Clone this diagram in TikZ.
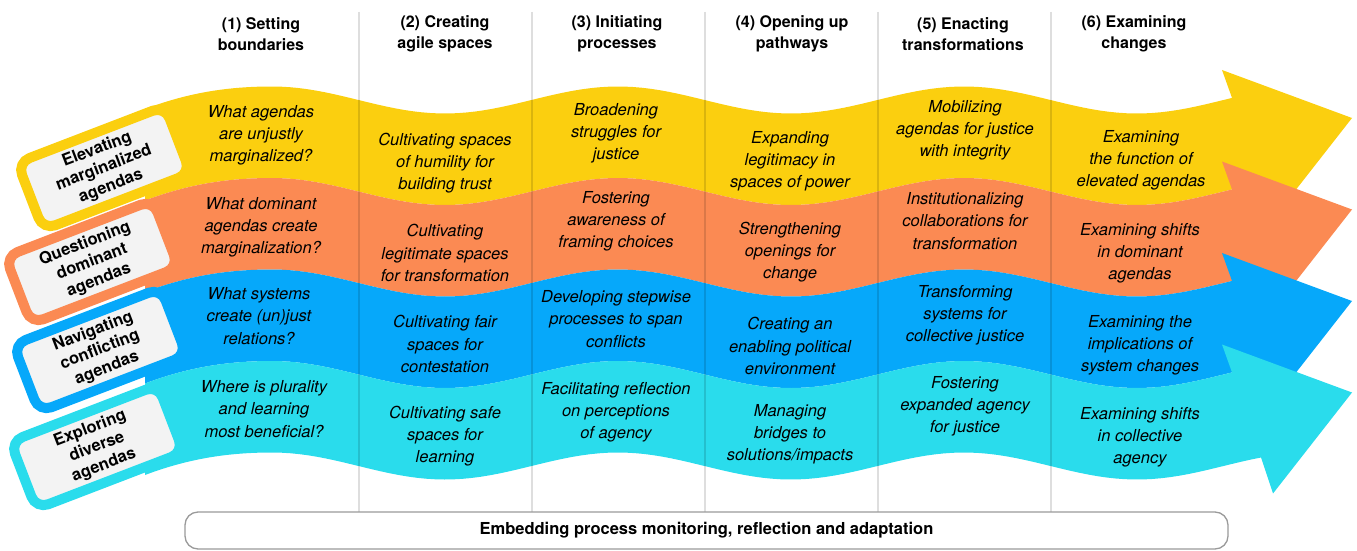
\documentclass[tikz,border=0pt]{standalone}
\usepackage{fontspec}
\setmainfont{TeX Gyre Heros}
\definecolor{cYel}{HTML}{FBCF0F}
\definecolor{cOra}{HTML}{FB8A53}
\definecolor{cBlu}{HTML}{06A8FA}
\definecolor{cCya}{HTML}{2ADCEC}
\definecolor{labfill}{HTML}{F3F3F3}
\definecolor{boxline}{HTML}{9A9A9A}
\newcommand\mybandfill[2]{%
  \pgfmathsetmacro\mA{100+91.5*#1}%
  \pgfmathsetmacro\mB{100+91.5*(#1+1)}%
  \pgfmathsetmacro\aT{70+91.5*#1}%
  \pgfmathsetmacro\aP{118+91.5*#1}%
  \pgfmathsetmacro\aB{219+91.5*#1}%
  \fill[#2] (145,{\mA+9}) .. controls (190,{\mA-8}) and (230,{\mA-13.5}) .. (272,{\mA-13.5})
    -- plot[domain=272:1232,samples=110] (\x,{\mA-13.5*cos(1.04046*(\x-618))})
    -- (1222,\aT) -- (1352,\aP) -- (1273,\aB)
    -- plot[domain=1261:272,samples=110] (\x,{\mB-13.5*cos(1.04046*(\x-618))})
    .. controls (230,{\mB-13.5}) and (190,{\mB-8}) .. (145,{\mB+9}) -- cycle;
}
\begin{document}
\begin{tikzpicture}[x=1pt,y=-1pt,
  lab/.style={fill=labfill, draw=#1, line width=10pt, rounded corners=13pt,
    minimum width=158pt, minimum height=72pt, rotate=21, align=center,
    inner sep=1pt, font=\bfseries\fontsize{16.5}{19.5}\selectfont},
  cell/.style={align=center, inner sep=0pt, font=\itshape\fontsize{16.5}{22.2}\selectfont},
  head/.style={align=center, inner sep=0pt, font=\bfseries\fontsize{16}{21.5}\selectfont},
  rule/.style={black, opacity=0.13, line width=1.2pt}]
\useasboundingbox (0,0) rectangle (1357,551);

% bands and their labels
\mybandfill{0}{cYel}
\node[lab=cYel] (l1) at (104,168) {Elevating\\marginalized\\agendas};
\mybandfill{1}{cOra}
\node[lab=cOra] (l2) at (92,262) {Questioning\\dominant\\agendas};
\mybandfill{2}{cBlu}
\node[lab=cBlu] (l3) at (100,350) {Navigating\\conflicting\\agendas};
\mybandfill{3}{cCya}
\node[lab=cCya] (l4) at (97,447) {Exploring\\diverse\\agendas};

% column rules
\foreach \cx in {359,532,705,878,1051} \draw[rule] (\cx,12) -- (\cx,512);

% headers
\node[head] (h1) at (261,34) {(1) Setting\\boundaries};
\node[head] (h2) at (445,34) {(2) Creating\\agile spaces};
\node[head] (h3) at (617,34) {(3) Initiating\\processes};
\node[head] (h4) at (792,34) {(4) Opening up\\pathways};
\node[head] (h5) at (963,34) {(5) Enacting\\transformations};
\node[head] (h6) at (1134,34) {(6) Examining\\changes};

% column 1
\node[cell] (c11) at (261,135) {What agendas\\are unjustly\\marginalized?};
\node[cell] (c12) at (261,227) {What dominant\\agendas create\\marginalization?};
\node[cell] (c13) at (259,316) {What systems\\create (un)just\\relations?};
\node[cell] (c14) at (264,409) {Where is plurality\\and learning\\most beneficial?};
% column 2
\node[cell] (c21) at (445,163) {Cultivating spaces\\of humility for\\building trust};
\node[cell] (c22) at (445,253) {Cultivating\\legitimate spaces\\for transformation};
\node[cell] (c23) at (445,344) {Cultivating fair\\spaces for\\contestation};
\node[cell] (c24) at (445,436) {Cultivating safe\\spaces for\\learning};
% column 3
\node[cell] (c31) at (616,133) {Broadening\\struggles for\\justice};
\node[cell] (c32) at (616,221) {Fostering\\awareness of\\framing choices};
\node[cell] (c33) at (616,319) {Developing stepwise\\processes to span\\conflicts};
\node[cell] (c34) at (616,412) {Facilitating reflection\\on perceptions\\of agency};
% column 4
\node[cell] (c41) at (790,161) {Expanding\\legitimacy in\\spaces of power};
\node[cell] (c42) at (790,252) {Strengthening\\openings for\\change};
\node[cell] (c43) at (790,346) {Creating an\\enabling political\\environment};
\node[cell] (c44) at (790,434) {Managing\\bridges to\\solutions/impacts};
% column 5
\node[cell] (c51) at (965,130) {Mobilizing\\agendas for justice\\with integrity};
\node[cell] (c52) at (965,221) {Institutionalizing\\collaborations for\\transformation};
\node[cell] (c53) at (965,315) {Transforming\\systems for\\collective justice};
\node[cell] (c54) at (965,406) {Fostering\\expanded agency\\for justice};
% column 6
\node[cell] (c61) at (1141,160) {Examining\\the function of\\elevated agendas};
\node[cell] (c62) at (1140,253) {Examining shifts\\in dominant\\agendas};
\node[cell] (c63) at (1140,345) {Examining the\\implications of\\system changes};
\node[cell] (c64) at (1140,437) {Examining shifts\\in collective\\agency};

% bottom box
\node[draw=boxline, fill=white, line width=1.3pt, rounded corners=13pt,
  minimum width=1043pt, minimum height=37pt, inner sep=0pt,
  font=\bfseries\fontsize{16.5}{19}\selectfont] (mon) at (706.5,530.5)
  {Embedding process monitoring, reflection and adaptation};
\end{tikzpicture}
\end{document}
